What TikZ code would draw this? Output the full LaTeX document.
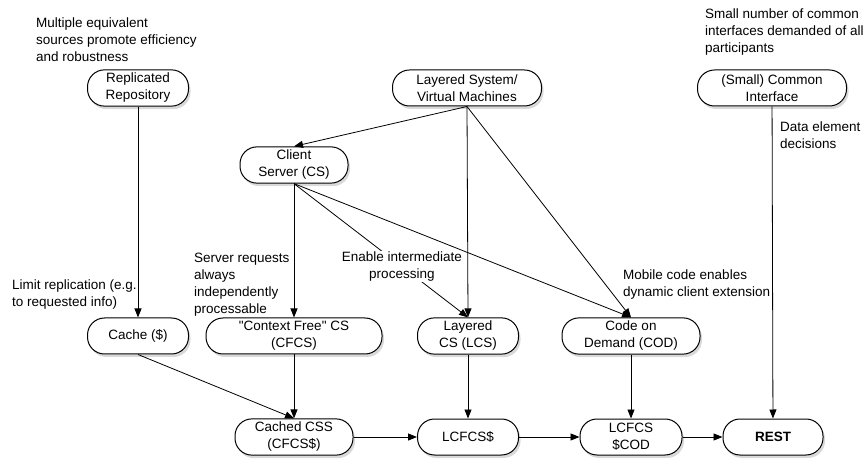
\documentclass[tikz,border=0pt]{standalone}
\usepackage{fontspec}
\setmainfont{Liberation Sans}
\usetikzlibrary{arrows.meta, shadows}
\tikzstyle{archstyle} = [rectangle, rounded corners=17pt, minimum height=36pt, align=center, draw=black, line width=1pt, fill=white, drop shadow={shadow xshift=2pt, shadow yshift=-3pt, opacity=0.3}]
\tikzstyle{annot} = [align=left, anchor=west, inner sep=0pt]
\tikzstyle{arrow} = [line width=0.8pt, -{Triangle[length=9pt,width=7pt]}]
\begin{document}
\begin{tikzpicture}[x=1pt, y=1pt, node distance=101pt, font=\fontsize{13.5}{17}\selectfont]
    \useasboundingbox (0,0) rectangle (866,460);

    % Nodes
    \node (repo) [archstyle, minimum width=101pt] at (138,372) {Replicated\\Repository};
    \node (layered) [archstyle, minimum width=149pt] at (467,372) {Layered System/\\Virtual Machines};
    \node (common) [archstyle, minimum width=149pt] at (772,372) {(Small) Common\\Interface};
    \node (cs) [archstyle, minimum width=108pt] at (294,295) {Client\\Server (CS)};

    \node (cache) [archstyle, minimum width=101pt] at (138,124) {Cache (\$)};
    \node (cfcs) [archstyle, minimum width=176pt] at (294,124) {\textquotedbl Context Free\textquotedbl{} CS\\(CFCS)};
    \node (lcs) [archstyle, minimum width=101pt] at (468,124) {Layered\\CS (LCS)};
    \node (cod) [archstyle, minimum width=138pt] at (631,124) {Code on\\Demand (COD)};

    \node (cached) [archstyle, minimum width=118pt, below of=cfcs] {Cached CSS\\(CFCS\$)};
    \node (lcfcs) [archstyle, minimum width=101pt, below of=lcs] {LCFCS\$};
    \node (lcfcscod) [archstyle, minimum width=102pt, below of=cod] {LCFCS\\\$COD};
    \node (rest) [archstyle, minimum width=100pt, right of=lcfcscod, xshift=41pt] {\textbf{REST}};

    % Notes
    \node (multiple) [annot] at (36,420) {Multiple equivalent\\sources promote efficiency\\and robustness};
    \node (smallnum) [annot] at (705,428) {Small number of common\\interfaces demanded of all\\participants};
    \node (dataelem) [annot] at (780,325) {Data element\\decisions};
    \node (limit) [annot] at (12,165) {Limit replication (e.g.\\to requested info)};
    \node (server) [annot] at (194,175) {Server requests\\always\\independently\\processable};
    \node (mobile) [annot] at (623,175) {Mobile code enables\\dynamic client extension};

    % Arrows
    \draw [arrow] (cs.south) -- node (enable) [pos=0.62, fill=white, inner sep=1pt, align=center] {Enable intermediate\\processing} (lcs.north);
    \draw [arrow] (repo) -- (cache);
    \draw [arrow] (layered.south) -- (cs.north);
    \draw [arrow] (layered.south) -- (lcs.north);
    \draw [arrow] (layered.south) -- (cod.north);
    \draw [arrow] (cs.south) -- (cfcs.north);
    \draw [arrow] (cs.south) -- (cod.north);
    \draw [arrow] (common) -- (rest);

    \draw [arrow] (cache.south) -- (cached.north);
    \draw [arrow] (cfcs) -- (cached);
    \draw [arrow] (lcs) -- (lcfcs);
    \draw [arrow] (cod) -- (lcfcscod);

    \draw [arrow] (cached) -- (lcfcs);
    \draw [arrow] (lcfcs) -- (lcfcscod);
    \draw [arrow] (lcfcscod) -- (rest);

\end{tikzpicture}
\end{document}
